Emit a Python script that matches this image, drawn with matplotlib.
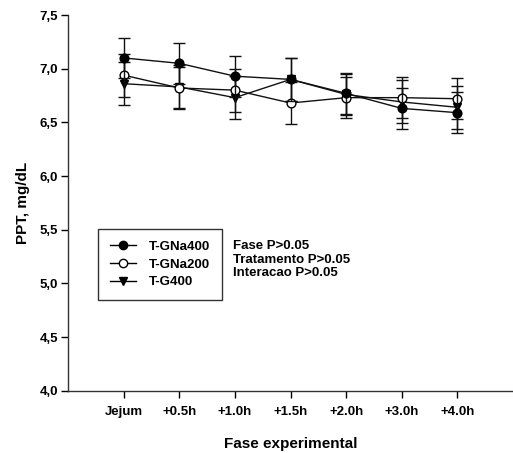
import matplotlib
matplotlib.use("Agg")
import matplotlib.pyplot as plt
from matplotlib.ticker import FuncFormatter
from matplotlib.lines import Line2D

phases = ["Jejum", "+0.5h", "+1.0h", "+1.5h", "+2.0h", "+3.0h", "+4.0h"]
gna400 = [7.10, 7.05, 6.93, 6.90, 6.77, 6.63, 6.59]
gna400_se = [0.19, 0.19, 0.19, 0.20, 0.19, 0.19, 0.19]
gna200 = [6.94, 6.82, 6.80, 6.68, 6.73, 6.73, 6.72]
gna200_se = [0.20, 0.20, 0.20, 0.20, 0.19, 0.19, 0.19]
g400 = [6.86, 6.83, 6.73, 6.90, 6.76, 6.69, 6.64]
g400_se = [0.20, 0.20, 0.20, 0.20, 0.19, 0.20, 0.20]
yticks = [4.0, 4.5, 5.0, 5.5, 6.0, 6.5, 7.0, 7.5]
stats_text = ["Fase P>0.05", "Tratamento P>0.05", "Interacao P>0.05"]

plt.rcParams['font.family'] = ['Liberation Sans', 'DejaVu Sans']
plt.rcParams['font.weight'] = 'bold'

fig = plt.figure(figsize=(5.13, 4.53), dpi=100)
ax = fig.add_axes([68/513, 1 - 390.7/453, 1 - 68/513, (390.7 - 15)/453])

x = list(range(len(phases)))
common = dict(color='#111111', lw=1.0, ms=6.3, capsize=4, elinewidth=1.0, capthick=1.0, mec='black', mew=1.0)
ax.errorbar(x, g400, yerr=g400_se, fmt='-v', mfc='black', zorder=3, **common)
ax.errorbar(x, gna200, yerr=gna200_se, fmt='-o', mfc='white', zorder=4, **common)
ax.errorbar(x, gna400, yerr=gna400_se, fmt='-o', mfc='black', zorder=5, **common)

ax.set_xlim(-1, 7)
ax.set_ylim(4.0, 7.5)
ax.set_xticks(x)
ax.set_xticklabels(phases, fontsize=9.5, fontweight='bold')
ax.set_yticks(yticks)
ax.yaxis.set_major_formatter(FuncFormatter(lambda v, p: f"{v:.1f}".replace('.', ',')))
for lab in ax.get_yticklabels():
    lab.set_fontweight('bold')
ax.tick_params(axis='y', labelsize=9.5, length=5, width=1, pad=2, direction='out')
ax.tick_params(axis='x', length=5, width=1, pad=6, direction='out')

for s in ['top', 'right']:
    ax.spines[s].set_visible(False)
for s in ['left', 'bottom']:
    ax.spines[s].set_linewidth(1.0)
    ax.spines[s].set_color('#333333')

ax.set_ylabel("PPT, mg/dL", fontsize=11, fontweight='bold', labelpad=7)
ax.set_xlabel("Fase experimental", fontsize=11, fontweight='bold', labelpad=14)

handles = [
    Line2D([], [], color='black', lw=1.0, marker='o', ms=6, mfc='black', mec='black'),
    Line2D([], [], color='black', lw=1.0, marker='o', ms=6, mfc='white', mec='black'),
    Line2D([], [], color='black', lw=1.0, marker='v', ms=6, mfc='black', mec='black'),
]
labels = ["T-GNa400", "T-GNa200", "T-G400"]
leg = ax.legend(handles, labels,
                loc='upper left', bbox_to_anchor=(98.3/513, 1 - 229.3/453),
                bbox_transform=fig.transFigure, frameon=True, fancybox=False,
                edgecolor='black', fontsize=9.5, handlelength=2.0, handletextpad=1.0,
                borderpad=0.85, labelspacing=0.42, borderaxespad=0)
leg.get_frame().set_linewidth(1.0)
for t in leg.get_texts():
    t.set_fontweight('bold')

for i, line in enumerate(stats_text):
    fig.text(233/513, 1 - (246 + i * 13.7)/453, line, fontsize=9.5, fontweight='bold',
             va='center', ha='left', transform=fig.transFigure)

fig.savefig("out.png", dpi=100)
